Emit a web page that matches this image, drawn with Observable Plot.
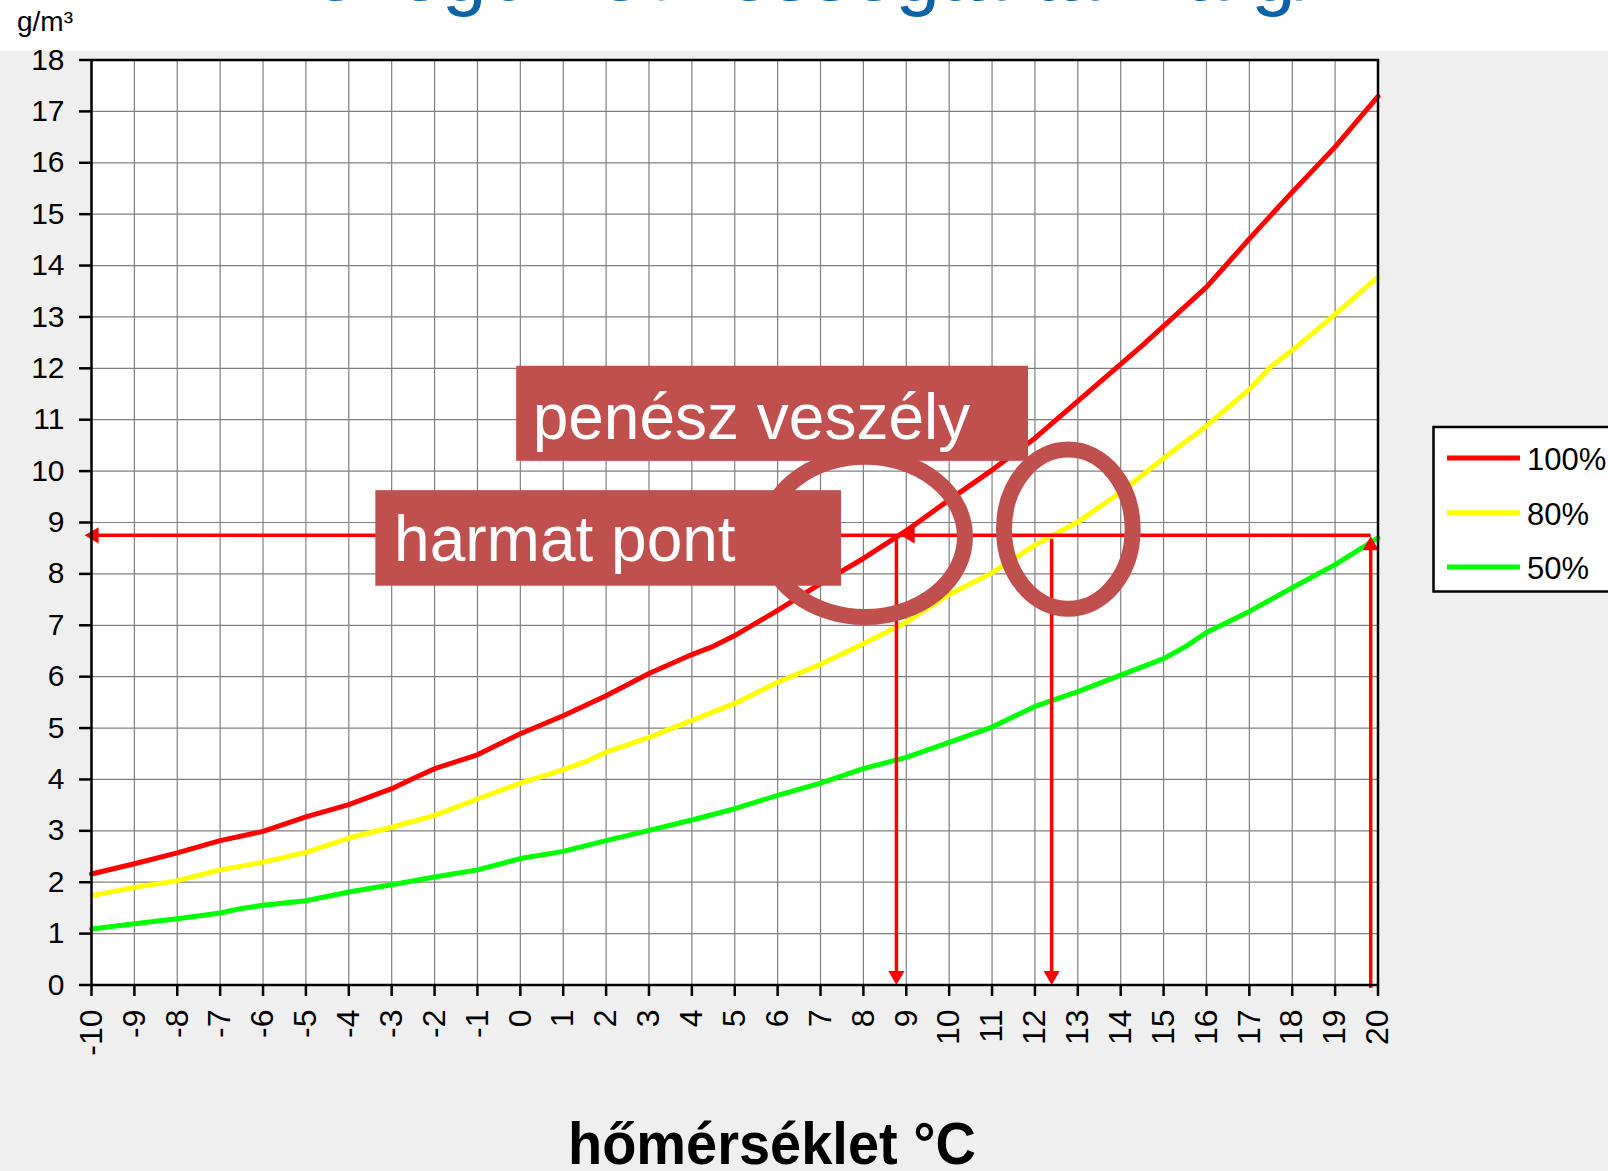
<!DOCTYPE html>
<html><head><meta charset="utf-8">
<script src="https://cdn.jsdelivr.net/npm/d3@7"></script>
<script src="https://cdn.jsdelivr.net/npm/@observablehq/plot@0.6"></script>
<style>
html,body{margin:0;padding:0;background:#efefef;}
#wrap{position:relative;width:1608px;height:1171px;overflow:hidden;background:#efefef;}
#strip{position:absolute;left:0;top:0;width:1608px;height:51px;background:#fff;}
#chart{position:absolute;left:0;top:0;}
</style></head><body>
<div id="wrap"><div id="strip"></div><div id="chart"></div></div>
<script>
// ---- data ----
const xTicks = [-10,-9,-8,-7,-6,-5,-4,-3,-2,-1,0,1,2,3,4,5,6,7,8,9,10,11,12,13,14,15,16,17,18,19,20];
const xTickLabels = ["-10","-9","-8","-7","-6","-5","-4","-3","-2","-1","0","1","2","3","4","5","6","7","8","9","10","11","12","13","14","15","16","17","18","19","20"];
const yTicks = [0,1,2,3,4,5,6,7,8,9,10,11,12,13,14,15,16,17,18];

const redX = [-10,-9,-8,-7,-6,-5,-4,-3,-2.5,-2,-1,0,1,2,3,4,4.5,5,6,7,8,9,10,11,12,13,14,14.5,15,16,16.5,17,18,19,20];
const redY = [2.16,2.36,2.57,2.81,2.99,3.27,3.51,3.82,4.02,4.21,4.48,4.89,5.24,5.63,6.06,6.43,6.59,6.80,7.29,7.81,8.30,8.84,9.44,10.02,10.64,11.36,12.08,12.44,12.82,13.58,14.05,14.52,15.43,16.31,17.29];

const yellowX = [-10,-9,-8,-7,-6,-5,-4,-3,-2,-1,0,1,1.5,2,3,4,5,6,7,8,9,10,11,12,13,14,15,16,17,17.5,18,19,20];
const yellowY = [1.74,1.90,2.03,2.24,2.39,2.58,2.86,3.07,3.30,3.62,3.93,4.19,4.34,4.53,4.82,5.15,5.48,5.89,6.24,6.64,7.06,7.60,8.02,8.56,9.01,9.59,10.25,10.88,11.59,12.03,12.35,13.05,13.78];

const greenX = [-10,-9,-8,-7,-6.5,-6,-5,-4,-3,-2,-1,0,1,2,3,4,5,6,7,8,9,10,11,12,13,14,15,15.5,16,17,18,19,20];
const greenY = [1.09,1.19,1.29,1.40,1.49,1.55,1.64,1.81,1.95,2.10,2.24,2.46,2.60,2.81,3.01,3.21,3.43,3.69,3.93,4.21,4.43,4.72,5.02,5.42,5.71,6.03,6.35,6.58,6.86,7.27,7.73,8.18,8.70];

const seriesNames = ["100%","80%","50%"];
const seriesColors = ["#ff0000","#ffff00","#00ff00"];

// annotations (data units)
const arrowSegs = [
  {x1: 19.83, y1: 8.75, x2: -10.05, y2: 8.75},
  {x1: 8.77, y1: 8.75, x2: 8.77, y2: 0.15},
  {x1: 12.39, y1: 8.68, x2: 12.39, y2: 0.15},
  {x1: 19.83, y1: -0.06, x2: 19.83, y2: 8.55}
];
const headsLeft = [{x: -10.16, y: 8.75}, {x: 8.87, y: 8.75}];
const headsDown = [{x: 8.77, y: 0}, {x: 12.39, y: 0}];
const headsUp = [{x: 19.83, y: 8.73}];
const boxes = [
  {x1: -0.086, x2: 11.85, y1: 10.19, y2: 12.04, tx: 0.287, ty: 11.03, label: "penész veszély"},
  {x1: -3.37, x2: 7.49, y1: 7.76, y2: 9.62, tx: -2.944, ty: 8.65, label: "harmat pont"}
];
const rings = [
  {x: 8.05, y: 8.71, rx: 2.33, ry: 1.56},
  {x: 12.79, y: 8.86, rx: 1.50, ry: 1.55}
];

// ---- build ----
const F = "'Liberation Sans', Arial, Helvetica, sans-serif";
const lines = seriesNames.map((name, k) => {
  const xs = [redX, yellowX, greenX][k], ys = [redY, yellowY, greenY][k];
  return xs.map((x, i) => ({series: name, x, y: ys[i]}));
});
const gridStyle = {stroke: "#808080", strokeOpacity: 1, strokeWidth: 1.2};

const plot = Plot.plot({
  width: 1608, height: 1171,
  marginLeft: 91, marginRight: 1608 - 1377.5, marginTop: 59.5, marginBottom: 1171 - 984.5,
  style: {background: "transparent", fontFamily: F, color: "black"},
  x: {domain: [-10, 20], axis: null},
  y: {domain: [0, 18], axis: null},
  marks: [
    Plot.frame({fill: "white", stroke: "none"}),
    Plot.gridX(xTicks, gridStyle),
    Plot.gridY(yTicks, gridStyle),
    ...lines.map((d, k) => Plot.line(d, {x: "x", y: "y", stroke: seriesColors[k], strokeWidth: 5})),
    Plot.link(arrowSegs, {x1: "x1", y1: "y1", x2: "x2", y2: "y2", stroke: "#ff0000", strokeWidth: 3.5}),
    Plot.dot(headsLeft, {x: "x", y: "y", symbol: "triangle", r: 6, rotate: -90, dx: 9.3, fill: "#ff0000", stroke: "none"}),
    Plot.dot(headsDown, {x: "x", y: "y", symbol: "triangle", r: 6, rotate: 180, dy: -9.3, fill: "#ff0000", stroke: "none"}),
    Plot.dot(headsUp, {x: "x", y: "y", symbol: "triangle", r: 6, rotate: 0, dy: 9.3, fill: "#ff0000", stroke: "none"}),
    Plot.frame({stroke: "black", strokeWidth: 2.5}),
    Plot.axisX(xTicks, {anchor: "bottom", tickRotate: -90, tickSize: 11.5, tickPadding: 13, fontSize: 32,
      strokeWidth: 2.5, label: null, tickFormat: (d) => xTickLabels[xTicks.indexOf(d)]}),
    Plot.axisY(yTicks, {anchor: "left", tickSize: 12, tickPadding: 15, fontSize: 30,
      strokeWidth: 2.5, label: null, tickFormat: d => String(d)}),
    Plot.rect(boxes, {x1: "x1", x2: "x2", y1: "y1", y2: "y2", fill: "#c0504d"}),
    Plot.text(boxes, {x: "tx", y: "ty", text: "label", fill: "white", fontSize: 64, textAnchor: "start", lineAnchor: "middle"})
  ]
});
document.getElementById("chart").appendChild(plot);

const svg = d3.select(plot);
const sx = plot.scale("x"), sy = plot.scale("y");

// rings under the boxes
const ringG = svg.insert("g", 'g[aria-label="rect"]');
rings.forEach(r => {
  const cx = sx.apply(r.x), cy = sy.apply(r.y);
  ringG.append("ellipse")
    .attr("cx", cx).attr("cy", cy)
    .attr("rx", Math.abs(sx.apply(r.x + r.rx) - cx))
    .attr("ry", Math.abs(sy.apply(r.y + r.ry) - cy))
    .attr("fill", "none").attr("stroke", "#c0504d").attr("stroke-width", 16);
});

// title (cut off at the top of the slide)
svg.append("text").attr("x", 224).attr("y", 0).attr("text-anchor", "start")
  .attr("font-family", F).attr("font-size", 80).attr("fill", "#0b63a5")
  .text("A levegő nedvességtartalma g/m³");

// unit label
svg.append("text").attr("x", 17).attr("y", 31).attr("text-anchor", "start")
  .attr("font-family", F).attr("font-size", 28).attr("fill", "black")
  .text("g/m³");

// x axis title
svg.append("text").attr("x", 772).attr("y", 1164).attr("text-anchor", "middle")
  .attr("font-family", F).attr("font-weight", "bold")
  .attr("font-size", 60).attr("textLength", 408).attr("lengthAdjust", "spacingAndGlyphs")
  .attr("fill", "black").text("hőmérséklet °C");

// legend
const lg = svg.append("g").attr("text-anchor", "start");
lg.append("rect").attr("x", 1433.5).attr("y", 427).attr("width", 220).attr("height", 164.5)
  .attr("fill", "white").attr("stroke", "black").attr("stroke-width", 2.5);
const legY = [458, 512.7, 567];
seriesNames.forEach((name, k) => {
  lg.append("line").attr("x1", 1447).attr("x2", 1520).attr("y1", legY[k]).attr("y2", legY[k])
    .attr("stroke", seriesColors[k]).attr("stroke-width", 5);
  lg.append("text").attr("x", 1527).attr("y", legY[k] + 12).attr("text-anchor", "start")
    .attr("font-family", F).attr("font-size", 31).attr("fill", "black").text(name);
});
</script>
</body></html>
